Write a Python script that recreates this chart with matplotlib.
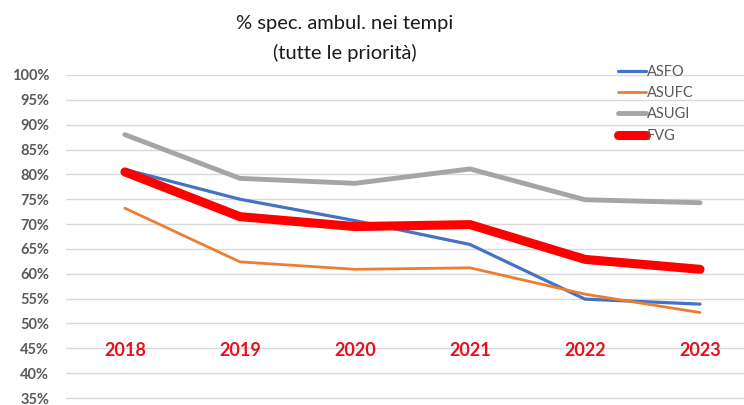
import matplotlib
matplotlib.use('Agg')
from matplotlib import pyplot
from matplotlib.ticker import PercentFormatter

YEARS = ['2018', '2019', '2020', '2021', '2022', '2023']
ASFO = [0.810, 0.750, 0.707, 0.659, 0.549, 0.539]
ASUFC = [0.732, 0.624, 0.609, 0.612, 0.559, 0.522]
ASUGI = [0.880, 0.792, 0.782, 0.811, 0.749, 0.743]
FVG = [0.805, 0.715, 0.695, 0.699, 0.629, 0.609]
Y_TICKS = [0.35, 0.40, 0.45, 0.50, 0.55, 0.60, 0.65, 0.70, 0.75, 0.80, 0.85, 0.90, 0.95, 1.00]

FONT = 'Lato'
TEXT_GREY = '#595959'

fig = pyplot.figure(figsize=(7.44, 4.05), dpi=100)
ax = fig.add_axes([66 / 744, 0, 1 - 66 / 744, 1 - 75 / 405])

x = range(len(YEARS))
ax.plot(x, ASFO, color='#4472C4', lw=2.3, label='ASFO', solid_capstyle='round', zorder=3)
ax.plot(x, ASUFC, color='#ED7D31', lw=2.0, label='ASUFC', solid_capstyle='round', zorder=3)
ax.plot(x, ASUGI, color='#A5A5A5', lw=3.5, label='ASUGI', solid_capstyle='round', zorder=3)
ax.plot(x, FVG, color='#FF0000', lw=6.5, label='FVG', solid_capstyle='round', zorder=4)

ax.set_xlim(-0.512, 5 + 44 / 115.2)
ax.set_ylim(0.336, 1.0)
ax.set_yticks(Y_TICKS)
ax.yaxis.set_major_formatter(PercentFormatter(1.0, decimals=0))
ax.set_xticks([])
ax.grid(axis='y', color='#D9D9D9', lw=1.0)
ax.set_axisbelow(True)
for side in ['top', 'right', 'bottom', 'left']:
    ax.spines[side].set_visible(False)
ax.tick_params(axis='y', length=0, pad=12, labelcolor=TEXT_GREY)
for lab in ax.get_yticklabels():
    lab.set_fontfamily(FONT)
    lab.set_fontweight('bold')
    lab.set_fontsize(10.5)

# year labels sit inside the plot near the 45% line
for i, yr in enumerate(YEARS):
    ax.text(i, 0.446, yr, ha='center', va='center', color='#E8101E',
            fontfamily=FONT, fontweight='bold', fontsize=13)

fig.text(345 / 744, 1 - 23 / 405, '% spec. ambul. nei tempi', ha='center', va='center',
         fontfamily=FONT, fontsize=14.5, color='#1a1a1a')
fig.text(345 / 744, 1 - 53 / 405, '(tutte le priorità)', ha='center', va='center',
         fontfamily=FONT, fontsize=14.5, color='#1a1a1a')

leg = ax.legend(loc='upper left', bbox_to_anchor=(612 / 744, 1 - 59 / 405),
                bbox_transform=fig.transFigure, frameon=False, handlelength=1.9,
                handletextpad=0.1, labelspacing=0.5, borderaxespad=0,
                prop={'family': FONT, 'size': 10.5})
for t in leg.get_texts():
    t.set_color(TEXT_GREY)

pyplot.savefig('out.png', dpi=100)
